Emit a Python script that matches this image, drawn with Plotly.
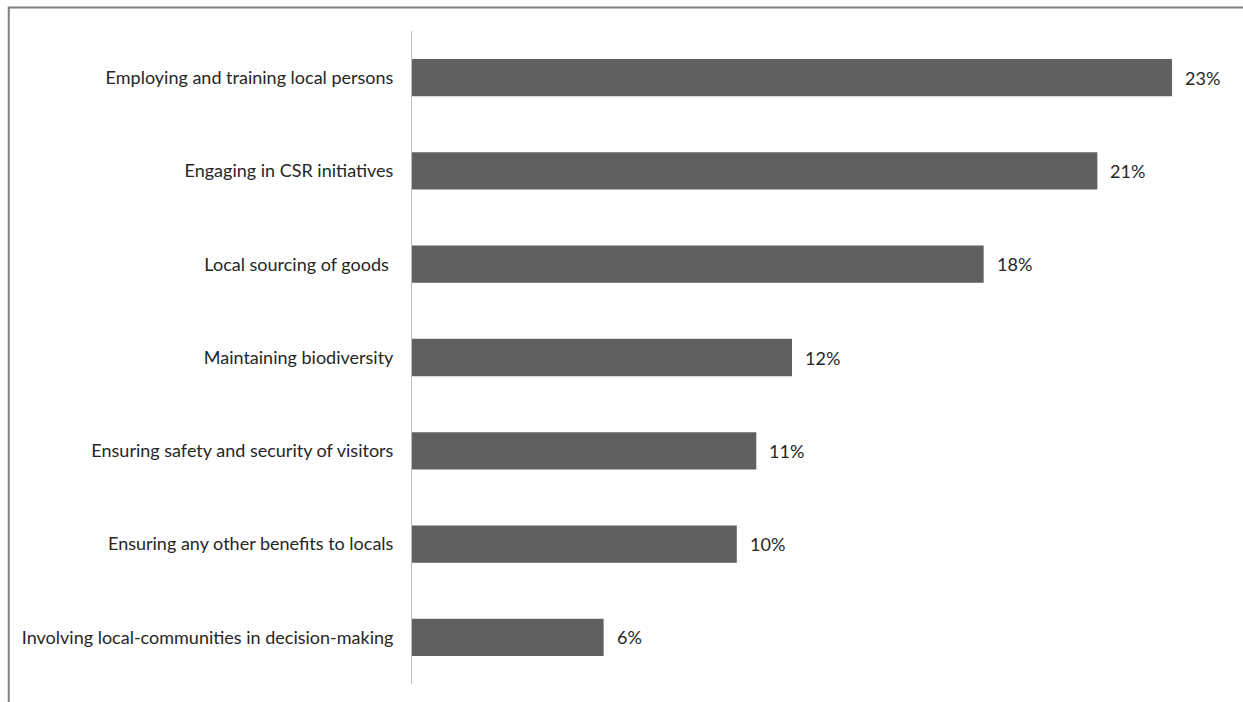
import plotly.graph_objects as go

# Share of responses per local-benefit practice (percent)
practices = [
    "Employing and training local persons",
    "Engaging in CSR initiatives",
    "Local sourcing of goods ",
    "Maintaining biodiversity",
    "Ensuring safety and security of visitors",
    "Ensuring any other benefits to locals",
    "Involving local-communities in decision-making",
]
shares = [23.4, 21.1, 17.6, 11.7, 10.6, 10.0, 5.9]

W, H = 1243, 702
ML, MT, MB = 412, 31, 18
X_MAX = 25.0
PX_PER_UNIT = 32.5
MR = W - ML - X_MAX * PX_PER_UNIT

FONT = "Lato, sans-serif"
FONT_SIZE = 18
TEXT_COLOR = "#262626"

fig = go.Figure(
    go.Bar(
        x=shares,
        y=practices,
        orientation="h",
        marker=dict(color="#606060", line=dict(width=0)),
        hoverinfo="x+y",
    )
)

# value labels to the right of each bar
for p, v in zip(practices, shares):
    fig.add_annotation(
        x=v, y=p, xref="x", yref="y",
        text=f"{v:.0f}%", showarrow=False,
        xanchor="left", xshift=11,
        font=dict(family=FONT, size=FONT_SIZE, color=TEXT_COLOR),
    )

# outer frame (top and left edges)
pw = W - ML - MR
ph = H - MT - MB
def px_to_paper_x(px):
    return (px - ML) / pw
def px_to_paper_y(py):
    return (H - MB - py) / ph

fig.add_shape(
    type="rect", xref="paper", yref="paper",
    x0=px_to_paper_x(8.5), x1=px_to_paper_x(1300),
    y0=px_to_paper_y(760), y1=px_to_paper_y(7.5),
    line=dict(color="#7f7f7f", width=2), fillcolor="rgba(0,0,0,0)",
    layer="below",
)

fig.update_layout(
    width=W, height=H,
    margin=dict(l=ML, r=MR, t=MT, b=MB, pad=0, autoexpand=False),
    paper_bgcolor="white", plot_bgcolor="white",
    bargap=0.6,
    showlegend=False,
    font=dict(family=FONT, size=FONT_SIZE, color=TEXT_COLOR),
    xaxis=dict(
        range=[0, X_MAX], visible=False, showgrid=False, zeroline=False,
        automargin=False,
    ),
    yaxis=dict(
        autorange="reversed", automargin=False,
        showline=True, linecolor="#bfbfbf", linewidth=1,
        ticks="", showgrid=False, zeroline=False,
        ticklabelstandoff=14,
        tickfont=dict(family=FONT, size=FONT_SIZE, color=TEXT_COLOR),
    ),
)

fig.write_html("out.html")
